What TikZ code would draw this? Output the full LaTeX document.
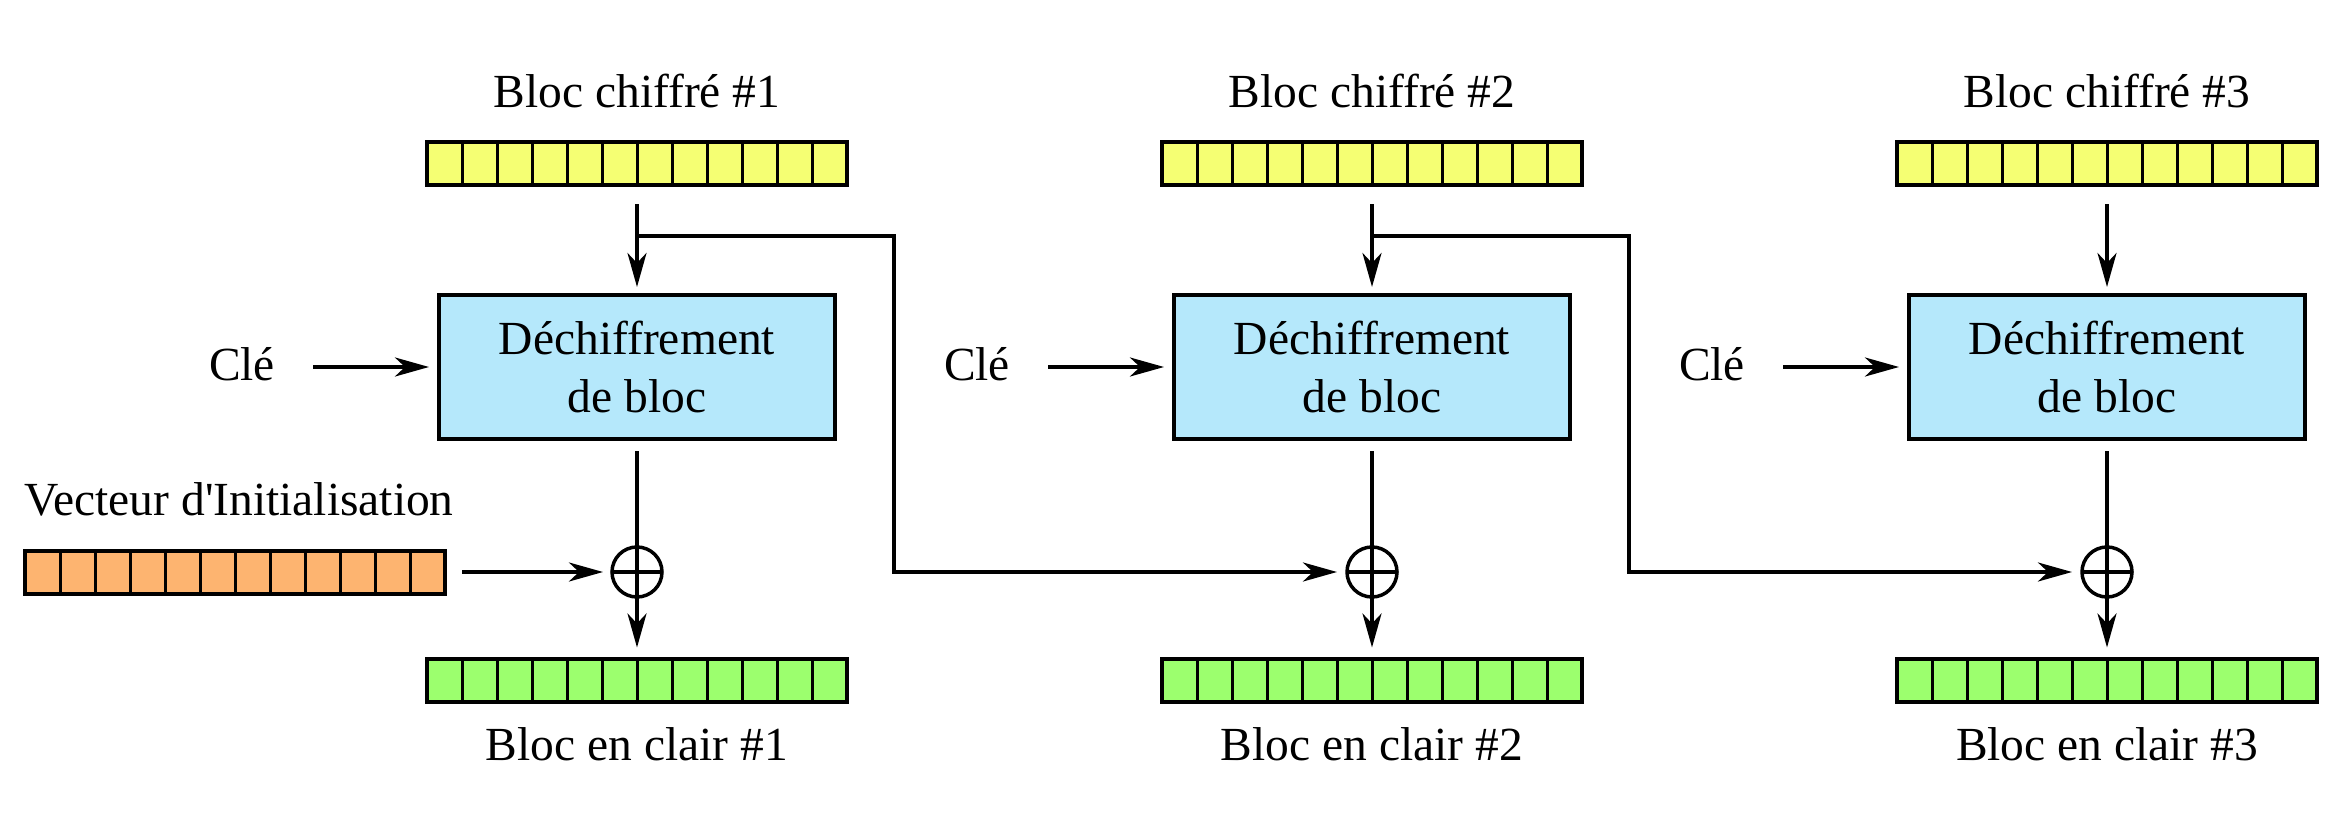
\documentclass[tikz,border=0pt]{standalone}
\usepackage{fontspec}
\setmainfont{Liberation Serif}[Ligatures=TeXOff]
\usetikzlibrary{arrows.meta}
\definecolor{cyellow}{RGB}{245,255,115}
\definecolor{corange}{RGB}{253,180,112}
\definecolor{cgreen}{RGB}{156,255,110}
\definecolor{cblue}{RGB}{181,232,251}
\begin{document}
\begin{tikzpicture}[x=1pt,y=-1pt,
  every node/.style={font=\fontsize{47.5}{58}\selectfont},
  lbl/.style={anchor=base, inner sep=0pt},
  bar/.style={draw, line width=4pt, minimum width=420pt, minimum height=43pt,
    inner sep=0pt, outer sep=0pt,
    path picture={\foreach \k in {1,...,11}{\draw[line width=3pt]
      ([xshift=\k*35pt]path picture bounding box.north west) --
      ([xshift=\k*35pt]path picture bounding box.south west);}}},
  box/.style={draw, fill=cblue, line width=4.5pt, minimum width=396pt,
    minimum height=144pt, align=center, inner sep=0pt, outer sep=0pt},
  xor/.style={circle, draw, line width=3.5pt, minimum size=50pt, inner sep=0pt,
    outer sep=0pt,
    path picture={\draw[line width=3.5pt]
      (path picture bounding box.north) -- (path picture bounding box.south)
      (path picture bounding box.west) -- (path picture bounding box.east);}},
  conn/.style={line width=3.5pt},
  arr/.style={conn, -{Stealth[length=34pt,width=19pt,inset=10pt]}}]
\useasboundingbox (0,0) rectangle (2342,834);

\foreach \i/\cx in {1/637,2/1372,3/2107}{
  \node[lbl] (t\i) at (\cx,108) {Bloc chiffré \#\i};
  \node[bar, fill=cyellow] (c\i) at (\cx,164) {};
  \node[box] (b\i) at (\cx,367) {Déchiffrement\\de bloc};
  \node[lbl] (k\i) at (\cx-395,380) {Clé};
  \node[xor] (x\i) at (\cx,572) {};
  \node[bar, fill=cgreen] (p\i) at (\cx,680) {};
  \node[lbl] (l\i) at (\cx,760) {Bloc en clair \#\i};
  \draw[arr, shorten <=19pt, shorten >=8pt] (c\i) -- (b\i);
  \draw[arr, shorten <=38pt, shorten >=10pt] (k\i.east |- b\i.west) -- (b\i.west);
  \draw[conn, shorten <=12pt] (b\i) -- (x\i);
  \draw[arr, shorten >=11pt] (x\i) -- (p\i);
}

\node[lbl] (ivl) at (239,515) {Vecteur d'Initialisation};
\node[bar, fill=corange] (iv) at (235,572) {};
\draw[arr, shorten <=17pt, shorten >=9pt] (iv) -- (x1);

\coordinate (j1) at (637,236);
\coordinate (j2) at (1372,236);
\draw[arr, shorten >=10pt] (j1) -- ++(257,0) |- (x2.west);
\draw[arr, shorten >=10pt] (j2) -- ++(257,0) |- (x3.west);
\end{tikzpicture}
\end{document}
